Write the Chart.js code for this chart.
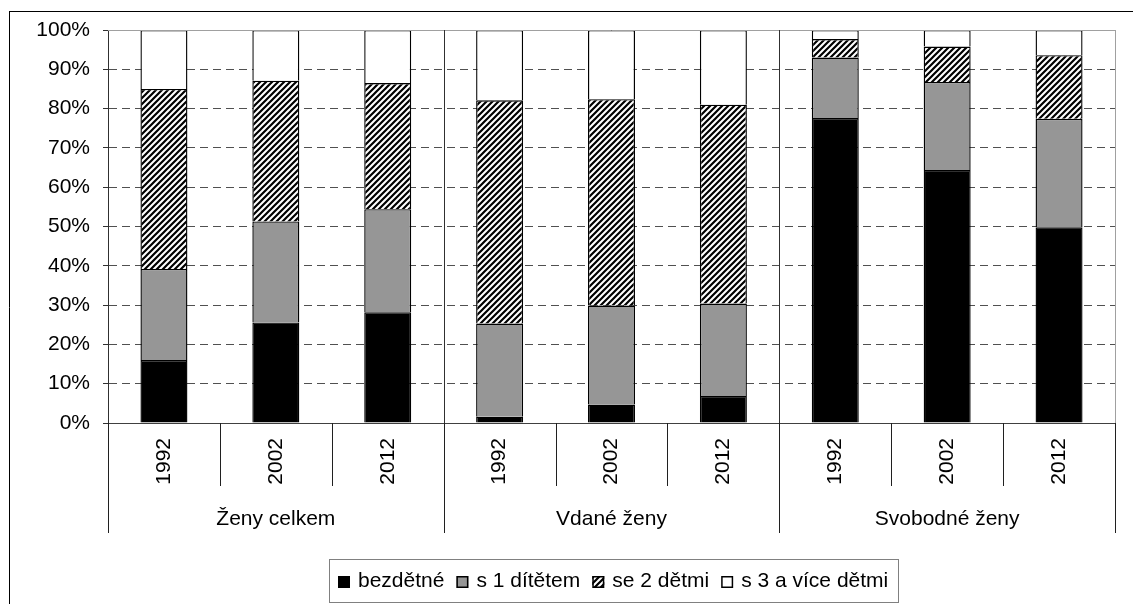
<!DOCTYPE html>
<html lang="cs">
<head>
<meta charset="utf-8">
<title>Ženy podle počtu dětí</title>
<script src="https://cdn.jsdelivr.net/npm/chart.js@4/dist/chart.umd.min.js"></script>
<style>
  html, body { margin: 0; padding: 0; background: #fff; }
  canvas { display: block; }
</style>
</head>
<body>
<canvas id="chart" width="1133" height="604"></canvas>
<script>
// Groups of women and census years
const groups = ['Ženy celkem', 'Vdané ženy', 'Svobodné ženy'];
const years = ['1992', '2002', '2012'];

// Share of women (%) by number of children, per group and year
const bezdetne = [16.0, 25.6, 28.2, 1.6, 4.7, 6.9, 77.6, 64.4, 49.8];
const s1ditetem = [23.2, 25.7, 26.2, 23.7, 25.2, 23.5, 15.4, 22.4, 27.6];
const se2detmi = [45.8, 35.8, 32.1, 56.8, 52.5, 50.6, 4.7, 9.0, 16.2];
const s3vice = [15.0, 12.9, 13.5, 17.9, 17.6, 19.0, 2.3, 4.2, 6.4];

const seriesNames = ['bezdětné', 's 1 dítětem', 'se 2 dětmi', 's 3 a více dětmi'];
const yTicks = [0, 10, 20, 30, 40, 50, 60, 70, 80, 90, 100];

const FONT = '"Liberation Sans", Arial, sans-serif';

// Diagonal hatch fill: lines x + y = 0, s, 2s repeat seamlessly across tiles
function makeHatch() {
  const s = 6;
  const c = document.createElement('canvas');
  c.width = s; c.height = s;
  const g = c.getContext('2d');
  g.fillStyle = '#fff';
  g.fillRect(0, 0, s, s);
  g.strokeStyle = '#000';
  g.lineWidth = 2.2;
  g.beginPath();
  [0, s, 2 * s].forEach(d => {
    g.moveTo(d - s - 2, s + 2);
    g.lineTo(d + 2, -2);
  });
  g.stroke();
  return g.createPattern(c, 'repeat');
}
const hatch = makeHatch();

const fills = ['#000000', '#969696', hatch, '#ffffff'];
const values = [bezdetne, s1ditetem, se2detmi, s3vice];

const labels = [];
groups.forEach(() => years.forEach(y => labels.push(y)));

// Frame, group dividers, group names and legend
const decorations = {
  id: 'decorations',
  afterDraw(chart) {
    const ctx = chart.ctx;
    const xs = chart.scales.x;
    const ca = chart.chartArea;
    const n = labels.length;
    const edge = i => {
      if (i <= 0) return ca.left;
      if (i >= n) return ca.right;
      return (xs.getPixelForValue(i - 1) + xs.getPixelForValue(i)) / 2;
    };
    const crisp = v => Math.round(v) + 0.5;
    ctx.save();
    ctx.lineWidth = 1;

    // plot area top and right border
    ctx.strokeStyle = '#a0a0a0';
    ctx.beginPath();
    ctx.moveTo(ca.left, crisp(ca.top)); ctx.lineTo(ca.right, crisp(ca.top));
    ctx.moveTo(crisp(ca.right), ca.top); ctx.lineTo(crisp(ca.right), ca.bottom);
    ctx.stroke();

    // separators between groups inside the plot area
    ctx.strokeStyle = '#303030';
    ctx.beginPath();
    for (let g = 1; g < groups.length; g++) {
      const x = crisp(edge(g * years.length));
      ctx.moveTo(x, ca.top); ctx.lineTo(x, ca.bottom);
    }
    ctx.stroke();

    // category ticks below the axis
    ctx.strokeStyle = '#202020';
    ctx.beginPath();
    for (let i = 0; i <= n; i++) {
      const x = crisp(edge(i));
      const long = i % years.length === 0;
      ctx.moveTo(x, ca.bottom);
      ctx.lineTo(x, long ? ca.bottom + 110 : ca.bottom + 63);
    }
    ctx.stroke();

    // group names
    ctx.fillStyle = '#000';
    ctx.font = '21px ' + FONT;
    ctx.textAlign = 'center';
    ctx.textBaseline = 'middle';
    groups.forEach((name, g) => {
      const cx = (edge(g * years.length) + edge((g + 1) * years.length)) / 2;
      ctx.fillText(name, cx, ca.bottom + 96);
    });

    // outer chart frame
    ctx.strokeStyle = '#000';
    ctx.beginPath();
    ctx.moveTo(9.5, 11); ctx.lineTo(9.5, chart.height);
    ctx.moveTo(9, 11.5); ctx.lineTo(chart.width, 11.5);
    ctx.stroke();

    // legend
    const box = { l: 329, t: 559, r: 898, b: 602 };
    ctx.strokeStyle = '#808080';
    ctx.strokeRect(box.l + 0.5, box.t + 0.5, box.r - box.l, box.b - box.t);
    ctx.font = '21px ' + FONT;
    ctx.textAlign = 'left';
    const sw = 12, gapIn = 8, gapOut = 12;
    const widths = seriesNames.map(s => ctx.measureText(s).width);
    let total = 0;
    widths.forEach((w, i) => { total += sw + gapIn + w + (i < widths.length - 1 ? gapOut : 0); });
    let x = Math.round((box.l + box.r) / 2 - total / 2);
    const cy = (box.t + box.b) / 2 + 1;
    seriesNames.forEach((name, i) => {
      const top = Math.round(cy - sw / 2);
      ctx.fillStyle = fills[i];
      ctx.fillRect(x, top, sw, sw);
      ctx.strokeStyle = '#000';
      ctx.lineWidth = 1.5;
      ctx.strokeRect(x + 0.75, top + 0.75, sw - 1.5, sw - 1.5);
      ctx.fillStyle = '#000';
      ctx.fillText(name, x + sw + gapIn, cy);
      x += sw + gapIn + widths[i] + gapOut;
    });
    ctx.restore();
  }
};

new Chart(document.getElementById('chart'), {
  type: 'bar',
  data: {
    labels: labels,
    datasets: seriesNames.map((name, i) => ({
      label: name,
      data: values[i],
      backgroundColor: fills[i],
      borderColor: '#000',
      borderWidth: 1.4,
      barPercentage: 0.42,
      categoryPercentage: 1.0
    }))
  },
  options: {
    responsive: false,
    animation: false,
    devicePixelRatio: 1,
    layout: { padding: { left: 0, top: 30, right: 18, bottom: 0 } },
    plugins: { legend: { display: false }, tooltip: { enabled: false } },
    scales: {
      x: {
        stacked: true,
        afterFit(scale) { scale.height = 181; },
        grid: { display: false, drawTicks: false, drawOnChartArea: false },
        border: { display: true, color: '#404040', width: 1 },
        ticks: {
          autoSkip: false,
          minRotation: 90,
          maxRotation: 90,
          padding: 15,
          color: '#000',
          font: { family: FONT, size: 21 }
        }
      },
      y: {
        stacked: true,
        min: 0,
        max: 100,
        afterFit(scale) { scale.width = 108; },
        afterBuildTicks(scale) { scale.ticks = yTicks.map(v => ({ value: v })); },
        grid: {
          color: c => (c.tick && (c.tick.value === 0 || c.tick.value === 100)) ? 'rgba(0,0,0,0)' : '#505050',
          lineWidth: 1,
          drawTicks: true,
          tickLength: 5,
          tickColor: '#303030'
        },
        border: { display: true, color: '#303030', width: 1, dash: [8, 5] },
        ticks: {
          padding: 13,
          color: '#000',
          font: { family: FONT, size: 21 },
          callback: v => v + '%'
        }
      }
    }
  },
  plugins: [decorations]
});
</script>
</body>
</html>
